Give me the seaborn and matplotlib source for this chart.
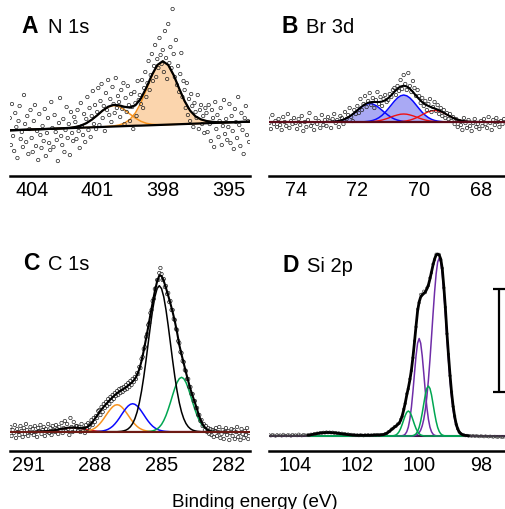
import numpy as np
import matplotlib
matplotlib.use("Agg")
import matplotlib.pyplot as plt
import seaborn as sns
from matplotlib.ticker import MultipleLocator

# ---------------- A: N 1s (intensity in arbitrary units) ----------------
n1s_fit_energy = np.linspace(405, 394, 45)
n1s_bg = [45.7, 45.9, 46.1, 46.3, 46.5, 46.7, 46.9, 47.1, 47.3, 47.5, 47.7, 47.9, 48.1, 48.3, 48.5,
          48.7, 48.9, 49.1, 49.3, 49.5, 49.7, 49.9, 50.1, 50.3, 50.4, 50.6, 50.8, 51.0, 51.2, 51.4,
          51.6, 51.8, 52.0, 52.2, 52.4, 52.6, 52.8, 53.0, 53.2, 53.4, 53.6, 53.8, 54.0, 54.2, 54.4]
n1s_peak_400 = [0] * 10 + [0.1, 0.35, 0.9, 2.1, 4.3, 7.6, 11.8, 16.3, 19.7, 21, 19.7, 16.3, 11.8, 7.6,
                           4.3, 2.1, 0.9, 0.35, 0.1] + [0] * 16
n1s_peak_398 = [0] * 17 + [0.1, 0.3, 0.6, 1.3, 3.0, 6.5, 12.9, 22.9, 35.7, 49.2, 59.6, 63.5, 59.6, 49.2,
                           35.7, 22.9, 13.2, 7.2, 4.0, 2.2, 1.2, 0.6, 0.3, 0.1] + [0] * 4
n1s_energy = np.linspace(405, 394.05, 220)
n1s_counts = [
    58, 31, 72, 40, 25, 63, 49, 18, 55, 70, 37, 44, 29, 81, 52, 34, 60, 22, 47, 66,
    38, 24, 55, 71, 30, 45, 16, 62, 41, 28, 50, 35, 67, 20, 43, 58, 33, 26, 74, 48,
    29, 61, 44, 36, 15, 53, 78, 40, 31, 57, 24, 46, 69, 38, 52, 21, 64, 43, 35, 59,
    54, 37, 66, 45, 28, 73, 50, 41, 62, 34, 57, 79, 46, 68, 39, 60, 85, 52, 71, 47,
    64, 88, 51, 75, 92, 58, 70, 45, 83, 66, 96, 61, 77, 54, 89, 72, 63, 98, 68, 80,
    74, 59, 86, 67, 93, 52, 78, 64, 90, 71, 55, 82, 69, 47, 84, 73, 60, 95, 76, 81,
    72, 96, 68, 88, 104, 79, 93, 115, 86, 101, 122, 95, 110, 131, 99, 117, 108, 138, 121, 112,
    126, 104, 145, 118, 97, 152, 113, 129, 108, 167, 122, 99, 136, 91, 110, 84, 102, 123, 79, 95,
    86, 68, 93, 61, 77, 55, 82, 70, 49, 73, 64, 58, 81, 47, 66, 71, 52, 60, 43, 68,
    63, 44, 71, 52, 35, 66, 58, 29, 74, 47, 61, 39, 55, 68, 31, 50, 76, 42, 57, 36,
    49, 72, 33, 60, 45, 27, 67, 54, 38, 79, 51, 30, 63, 46, 22, 58, 70, 41, 55, 34]
n1s_ticks = [404, 401, 398, 395]

# ---------------- B: Br 3d ----------------
br3d_fit_energy = np.linspace(73.0, 68.0, 51)
br3d_bg = 54
br3d_blue_1 = [0.07, 0.15, 0.3, 0.6, 1.1, 1.9, 3.0, 4.6, 6.7, 9.1, 11.7, 14.3, 16.5, 18.0, 18.5, 18.0,
               16.5, 14.3, 11.7, 9.1, 6.7, 4.6, 3.0, 1.9, 1.1, 0.6, 0.3, 0.15, 0.07] + [0] * 22
br3d_blue_2 = [0] * 10 + [0.05, 0.1, 0.2, 0.5, 0.9, 1.6, 2.7, 4.4, 6.7, 9.7, 13.3, 17.1, 20.9, 24.1, 26.2,
                          27, 26.2, 24.1, 20.9, 17.1, 13.3, 9.7, 6.7, 4.4, 2.7, 1.6, 0.9, 0.5, 0.2, 0.1,
                          0.05] + [0] * 10
br3d_red_1 = [0] * 12 + [0.07, 0.14, 0.26, 0.5, 0.8, 1.3, 2.0, 2.9, 3.9, 5.1, 6.2, 7.1, 7.8, 8, 7.8, 7.1,
                         6.2, 5.1, 3.9, 2.9, 2.0, 1.3, 0.8, 0.5, 0.26, 0.14, 0.07] + [0] * 12
br3d_red_2 = [0] * 20 + [0.02, 0.04, 0.1, 0.2, 0.4, 0.7, 1.2, 1.9, 2.9, 4.1, 5.7, 7.3, 8.9, 10.3, 11.2,
                         11.5, 11.2, 10.3, 8.9, 7.3, 5.7, 4.1, 2.9, 1.9, 1.2, 0.7, 0.4, 0.2, 0.1, 0.04, 0.02]
br3d_energy = np.linspace(75, 67.25, 156)
br3d_counts = [
    56, 50, 58, 53, 47, 61, 52, 55, 49, 57, 51, 46, 59, 54, 50, 62, 48, 55, 52, 58,
    53, 47, 57, 51, 60, 45, 54, 49, 56, 63, 50, 53, 46, 58, 52, 55, 48, 61, 51, 56,
    50, 59, 55, 48, 57, 62, 53, 56, 49, 60, 58, 52, 64, 57, 61, 68, 59, 55, 66, 62,
    70, 63, 77, 66, 72, 80, 69, 75, 83, 71, 78, 68, 76, 84, 72, 79, 70, 77, 81, 74,
    76, 82, 79, 86, 88, 81, 90, 85, 96, 87, 101, 92, 86, 103, 90, 84, 95, 88, 80, 86,
    80, 73, 78, 70, 75, 66, 72, 77, 64, 69, 74, 65, 71, 62, 68, 60, 66, 58, 63, 57,
    62, 55, 59, 52, 57, 49, 55, 51, 46, 58, 53, 48, 56, 50, 45, 53, 57, 49, 52, 47,
    55, 50, 57, 52, 48, 59, 53, 46, 56, 51, 58, 54, 49, 55, 52, 57]
br3d_ticks = [74, 72, 70, 68]

# ---------------- C: C 1s ----------------
c1s_fit_energy = np.linspace(290.6, 282.0, 87)
c1s_bg = 19.3
c1s_envelope = [
    19.6, 19.6, 19.7, 19.8, 19.9, 20.1, 20.3, 20.6, 20.9, 21.3, 21.8, 22.2, 22.6, 23.0, 23.3, 23.5,
    23.5, 23.4, 23.2, 23.0, 22.9, 23.0, 23.4, 24.5, 26.5, 29.2, 32.3, 35.5, 38.6, 41.6, 44.3, 46.8,
    49.3, 51.6, 53.9, 55.9, 57.9, 59.4, 60.8, 62.2, 63.8, 65.5, 67.3, 69.3, 72.0, 76.0, 81.8, 90.0,
    100.5, 112.0, 124.0, 136.5, 148.5, 160.0, 169.5, 175.5, 175.0, 170.0, 163.0, 155.5, 147.5, 139.0,
    129.5, 118.5, 106.0, 96.5, 87.5, 78.5, 70.0, 62.0, 55.0, 48.5, 41.5, 34.5, 29.0, 25.0, 22.5, 20.8,
    19.8, 19.4, 19.2, 19.1, 19.0, 19.0, 19.0, 19.0, 19.0]
c1s_red = [0.1, 0.1, 0.16, 0.2, 0.4, 0.5, 0.8, 1.0, 1.4, 1.8, 2.2, 2.6, 3.1, 3.4, 3.7, 3.9, 4.0, 3.9, 3.7,
           3.4, 3.1, 2.6, 2.2, 1.8, 1.4, 1.0, 0.8, 0.5, 0.4, 0.2, 0.16, 0.1] + [0] * 55
c1s_orange = [0] * 20 + [0.16, 0.3, 0.5, 0.9, 1.5, 2.4, 3.6, 5.3, 7.5, 10.1, 13.1, 16.4, 19.6, 22.5, 24.9,
                         26.5, 27, 26.5, 24.9, 22.5, 19.6, 16.4, 13.1, 10.1, 7.5, 5.3, 3.6, 2.4, 1.5, 0.9,
                         0.5, 0.3, 0.16] + [0] * 34
c1s_blue = [0] * 27 + [0.17, 0.3, 0.55, 1.0, 1.6, 2.5, 3.8, 5.5, 7.8, 10.5, 13.6, 17.0, 20.3, 23.4, 25.8,
                       27.4, 28, 27.4, 25.8, 23.4, 20.3, 17.0, 13.6, 10.5, 7.8, 5.5, 3.8, 2.5, 1.6, 1.0,
                       0.55, 0.3, 0.17] + [0] * 27
c1s_main = [0] * 37 + [0.2, 0.4, 0.9, 1.6, 2.9, 5.0, 8.2, 13.0, 19.7, 28.9, 40.6, 54.8, 71.1, 88.6, 106.0,
                       121.9, 134.8, 143.1, 146, 143.1, 134.8, 121.9, 106.0, 88.6, 71.1, 54.8, 40.6, 28.9,
                       19.7, 13.0, 8.2, 5.0, 2.9, 1.6, 0.9, 0.4, 0.2] + [0] * 13
c1s_green = [0] * 50 + [0.2, 0.4, 0.8, 1.6, 2.7, 4.6, 7.3, 11.2, 16.2, 22.4, 29.3, 36.7, 43.6, 49.3, 53.1,
                        54.4, 53.1, 49.3, 43.6, 36.7, 29.3, 22.4, 16.2, 11.2, 7.3, 4.6, 2.7, 1.6, 0.8, 0.4,
                        0.2] + [0] * 6
c1s_energy = np.linspace(291.8, 281.05, 216)
c1s_counts = [
    24, 15, 21, 18, 26, 13, 22, 19, 16, 25, 20, 14, 23, 17, 27, 21, 15, 19, 24, 18,
    22, 16, 25, 19, 14, 23, 20, 26, 17, 21, 24, 15, 22, 19, 27, 18, 23, 16, 25, 21,
    19, 26, 22, 17, 24, 21, 28, 18, 23, 30, 20, 27, 22, 16, 33, 24, 19, 29, 21, 25,
    25, 20, 24, 19, 27, 21, 23, 18, 26, 22, 28, 24, 27, 31, 26, 33, 29, 35, 33, 40,
    41, 36, 44, 39, 47, 43, 49, 45, 52, 47, 54, 50, 56, 52, 58, 55, 60, 56, 62, 58,
    63, 59, 64, 61, 66, 62, 68, 64, 70, 66, 72, 69, 74, 72, 78, 77, 84, 83, 92, 94,
    102, 104, 114, 117, 126, 128, 138, 141, 150, 152, 162, 163, 171, 171, 178, 183, 177, 171, 172, 164,
    165, 157, 158, 149, 150, 141, 141, 132, 131, 122, 121, 110, 108, 99, 98, 90, 89, 81, 80, 72,
    72, 64, 64, 57, 57, 50, 50, 43, 43, 36, 36, 30, 31, 25, 27, 21, 25, 19, 23, 17,
    22, 16, 21, 14, 20, 23, 15, 19, 24, 13, 17, 21, 12, 19, 23, 16, 20, 11, 18, 22,
    15, 21, 12, 19, 24, 14, 18, 11, 22, 17, 13, 20, 16, 23, 12, 18]
c1s_ticks = [291, 288, 285, 282]

# ---------------- D: Si 2p ----------------
si2p_fit_energy = np.linspace(103.6, 98.4, 105)
si2p_bg = 15
si2p_envelope = [
    15.8, 16.0, 16.3, 16.6, 16.9, 17.2, 17.5, 17.8, 18.0, 18.2, 18.3, 18.4, 18.5, 18.5, 18.5, 18.4,
    18.3, 18.2, 18.0, 17.8, 17.6, 17.4, 17.2, 17.0, 16.8, 16.6, 16.4, 16.3, 16.1, 16.0, 15.9, 15.8,
    15.7, 15.7, 15.7, 15.7, 15.7, 15.7, 15.7, 15.7, 15.7, 15.8, 15.8, 15.9, 15.9, 16.0, 16.0, 16.1,
    16.2, 16.5, 17.0, 17.7, 18.8, 20.0, 21.3, 22.6, 23.8, 25.0, 26.3, 27.8, 30.5, 35.0, 41.0, 48.0,
    56.0, 63.0, 71.0, 81.0, 94.0, 109.0, 125.0, 140.0, 149.0, 154.0, 156.0, 157.5, 159.0, 162.0,
    166.0, 172.0, 179.0, 186.0, 192.0, 196.0, 197.0, 196.0, 192.0, 182.0, 164.0, 143.0, 118.0, 96.0,
    76.0, 58.5, 45.0, 34.5, 27.0, 22.0, 19.0, 17.3, 16.4, 15.9, 15.6, 15.4, 15.2]
si2p_purple_main = [0] * 69 + [0.4, 0.9, 1.7, 3.3, 5.9, 10.2, 16.7, 26.3, 39.2, 55.9, 76.0, 98.6, 121.9,
                               143.8, 162.0, 173.9, 178, 173.9, 162.0, 143.8, 121.9, 98.6, 76.0, 55.9,
                               39.2, 26.3, 16.7, 10.2, 5.9, 3.3, 1.7, 0.9, 0.4] + [0] * 3
si2p_purple_2 = [0] * 60 + [0.1, 0.3, 0.7, 1.9, 4.3, 8.9, 16.8, 28.8, 44.7, 62.8, 80.2, 92.8, 97.5, 92.8,
                            80.2, 62.8, 44.7, 28.8, 16.8, 8.9, 4.3, 1.9, 0.7, 0.3, 0.1] + [0] * 20
si2p_green_1 = [0] * 67 + [0.1, 0.4, 1.0, 2.2, 4.6, 8.6, 14.8, 22.9, 32.2, 41.2, 47.6, 50, 47.6, 41.2,
                           32.2, 22.9, 14.8, 8.6, 4.6, 2.2, 1.0, 0.4, 0.1] + [0] * 15
si2p_green_2 = [0] * 54 + [0.07, 0.2, 0.5, 1.1, 2.3, 4.3, 7.4, 11.5, 16.1, 20.6, 23.8, 25, 23.8, 20.6,
                           16.1, 11.5, 7.4, 4.3, 2.3, 1.1, 0.5, 0.2, 0.07] + [0] * 28
si2p_energy = np.linspace(104.85, 97.25, 153)
si2p_counts = [
    16.1, 15.2, 16.4, 15.8, 14.9, 16.3, 15.5, 16.0, 15.1, 16.6, 15.7, 15.3, 16.2, 15.9, 15.0, 16.5,
    15.6, 16.1, 15.4, 16.8, 15.9, 15.3, 16.4, 16.0, 15.7,
    16.2, 15.7, 16.8, 16.4, 17.3, 16.9, 17.9, 17.4, 18.4, 17.9, 18.7, 18.1, 19.0, 18.3, 18.9, 18.2,
    18.8, 17.9, 18.5, 17.6, 18.1, 17.2, 17.8, 16.9, 17.4, 16.6, 17.0, 16.2, 16.6, 15.8, 16.3, 15.5, 16.1,
    15.4, 16.2, 15.8, 15.3, 16.1, 15.6, 16.3, 15.5, 16.0, 15.7, 16.4, 15.9, 16.5, 15.8, 16.3,
    16.5, 16.3, 17.4, 17.5, 19.2, 19.7, 21.8, 22.3, 24.3, 24.6, 27.0, 27.5, 31.6, 34.4, 41.8, 47.5,
    57.3, 62.1, 72.0, 80.3, 93.2, 110.0, 124.1, 141.8, 148.2, 156.5, 156.9, 159.8, 158.4, 163.0,
    165.2, 173.1, 178.2, 186.9, 191.2, 196.8, 196.5, 196.6, 191.1, 182.8, 163.2, 143.7, 117.2, 96.8,
    75.3, 59.1, 44.4, 35.0, 26.6, 22.3, 18.8, 17.5, 16.2, 16.0, 15.4, 15.6, 15.0,
    15.3, 14.8, 15.5, 14.6, 15.2, 14.9, 14.4, 15.1, 14.7, 14.3, 15.0, 14.5, 14.2, 14.8, 14.4, 13.9,
    14.6, 14.1, 13.8, 14.5, 14.0, 13.7, 14.2]
si2p_ticks = [104, 102, 100, 98]
scale_bar_height = 103

# colours
orange = "#f7931e"
peach = "#fbd5ad"
blue = "#0a0aff"
periwinkle = "#a9a9f4"
red = "#f01010"
green = "#00a651"
purple = "#6f2da8"

sns.set_style("white")
plt.rcParams["font.family"] = ["Liberation Sans", "DejaVu Sans"]
plt.rcParams["text.color"] = "black"
plt.rcParams["xtick.color"] = "black"
plt.rcParams["axes.edgecolor"] = "black"

fig = plt.figure(figsize=(5.05, 5.10), dpi=100)
ax_a = fig.add_axes([0.0198, 0.6529, 0.4752, 0.3412])
ax_b = fig.add_axes([0.5327, 0.6529, 0.4673, 0.3412])
ax_c = fig.add_axes([0.0198, 0.1137, 0.4752, 0.3961])
ax_d = fig.add_axes([0.5327, 0.1137, 0.4673, 0.3961])


def style_axis(ax, xlim, ylim, ticks):
    ax.set_xlim(*xlim)
    ax.set_ylim(*ylim)
    ax.set_xticks(ticks)
    ax.xaxis.set_minor_locator(MultipleLocator(1))
    ax.set_yticks([])
    ax.set_xlabel("")
    ax.set_ylabel("")
    sns.despine(ax=ax, left=True)
    ax.spines["bottom"].set_linewidth(1.8)
    ax.spines["bottom"].set_color("black")
    ax.tick_params(axis="x", which="major", direction="in", length=5, width=1.3,
                   labelsize=14.3, pad=3, colors="black")
    ax.tick_params(axis="x", which="minor", direction="in", length=2.5, width=1.3, colors="black")


def line(ax, x, y, color, lw=1.0, z=3):
    sns.lineplot(x=x, y=y, ax=ax, color=color, lw=lw, errorbar=None, zorder=z)


def points(ax, x, y, s=6, ec="#222222", lw=0.5):
    sns.scatterplot(x=x, y=y, ax=ax, s=s, marker="o", color=ec, facecolor="none",
                    edgecolor=ec, linewidth=lw, zorder=4)


# A
bg = np.array(n1s_bg)
p1 = bg + np.array(n1s_peak_400)
p2 = bg + np.array(n1s_peak_398)
env = bg + np.array(n1s_peak_400) + np.array(n1s_peak_398)
ax_a.fill_between(n1s_fit_energy, bg, p2, color=peach, lw=0, zorder=1)
line(ax_a, n1s_fit_energy, p1, orange, 1.1)
line(ax_a, n1s_fit_energy, p2, orange, 1.1)
points(ax_a, n1s_energy, n1s_counts)
line(ax_a, n1s_fit_energy, env, "black", 1.6, 5)
line(ax_a, n1s_fit_energy, bg, "black", 1.6, 5)
style_axis(ax_a, (404.99, 394.01), (0, 174), n1s_ticks)

# B
b1 = br3d_bg + np.array(br3d_blue_1)
b2 = br3d_bg + np.array(br3d_blue_2)
r1 = br3d_bg + np.array(br3d_red_1)
r2 = br3d_bg + np.array(br3d_red_2)
env = br3d_bg + np.array(br3d_blue_1) + np.array(br3d_blue_2) + np.array(br3d_red_1) + np.array(br3d_red_2)
ax_b.fill_between(br3d_fit_energy, br3d_bg, b1, color=periwinkle, lw=0, zorder=1)
ax_b.fill_between(br3d_fit_energy, br3d_bg, b2, color=periwinkle, lw=0, zorder=1)
line(ax_b, br3d_fit_energy, b1, blue, 1.1)
line(ax_b, br3d_fit_energy, b2, blue, 1.1)
line(ax_b, br3d_fit_energy, r1, red, 1.0)
line(ax_b, br3d_fit_energy, r2, red, 1.0)
points(ax_b, br3d_energy, br3d_counts)
line(ax_b, br3d_fit_energy, env, "black", 1.5, 5)
ax_b.axhline(br3d_bg, color="#5c0a18", lw=1.6, zorder=5)
style_axis(ax_b, (74.86, 67.22), (0, 174), br3d_ticks)

# C
for comp, col in [(c1s_red, red), (c1s_orange, orange), (c1s_blue, blue), (c1s_green, green),
                  (c1s_main, "black")]:
    line(ax_c, c1s_fit_energy, c1s_bg + np.array(comp), col, 1.1)
points(ax_c, c1s_energy, c1s_counts)
line(ax_c, c1s_fit_energy, c1s_envelope, "black", 1.5, 5)
ax_c.axhline(c1s_bg, color="#6e1a14", lw=1.5, zorder=5)
style_axis(ax_c, (291.82, 281.02), (0, 202), c1s_ticks)

# D
for comp, col in [(si2p_purple_main, purple), (si2p_purple_2, purple), (si2p_green_1, green),
                  (si2p_green_2, green)]:
    line(ax_d, si2p_fit_energy, si2p_bg + np.array(comp), col, 1.1)
points(ax_d, si2p_energy, si2p_counts, s=3, ec="#444444", lw=0.5)
line(ax_d, si2p_fit_energy, si2p_envelope, "black", 2.0, 5)
ax_d.axhline(si2p_bg, color="#3a1a48", lw=1.5, zorder=2)
ax_d.errorbar(97.41, 111, yerr=scale_bar_height / 2, color="black", lw=1.6, capsize=4.5,
              capthick=1.6, clip_on=False, zorder=6)
style_axis(ax_d, (104.86, 97.22), (0, 202), si2p_ticks)

# panel labels
for x_letter, x_name, y, letter, name in [(0.043, 0.0945, 0.935, "A", "N 1s"),
                                          (0.558, 0.605, 0.935, "B", "Br 3d"),
                                          (0.045, 0.0956, 0.4706, "C", "C 1s"),
                                          (0.559, 0.607, 0.467, "D", "Si 2p")]:
    fig.text(x_letter, y, letter, fontsize=16.5, fontweight="bold", va="baseline")
    fig.text(x_name, y, name, fontsize=14.5, va="baseline")

fig.text(0.505, 0.0065, "Binding energy (eV)", fontsize=13.5, ha="center", va="baseline")

fig.savefig("out.png", dpi=100)
